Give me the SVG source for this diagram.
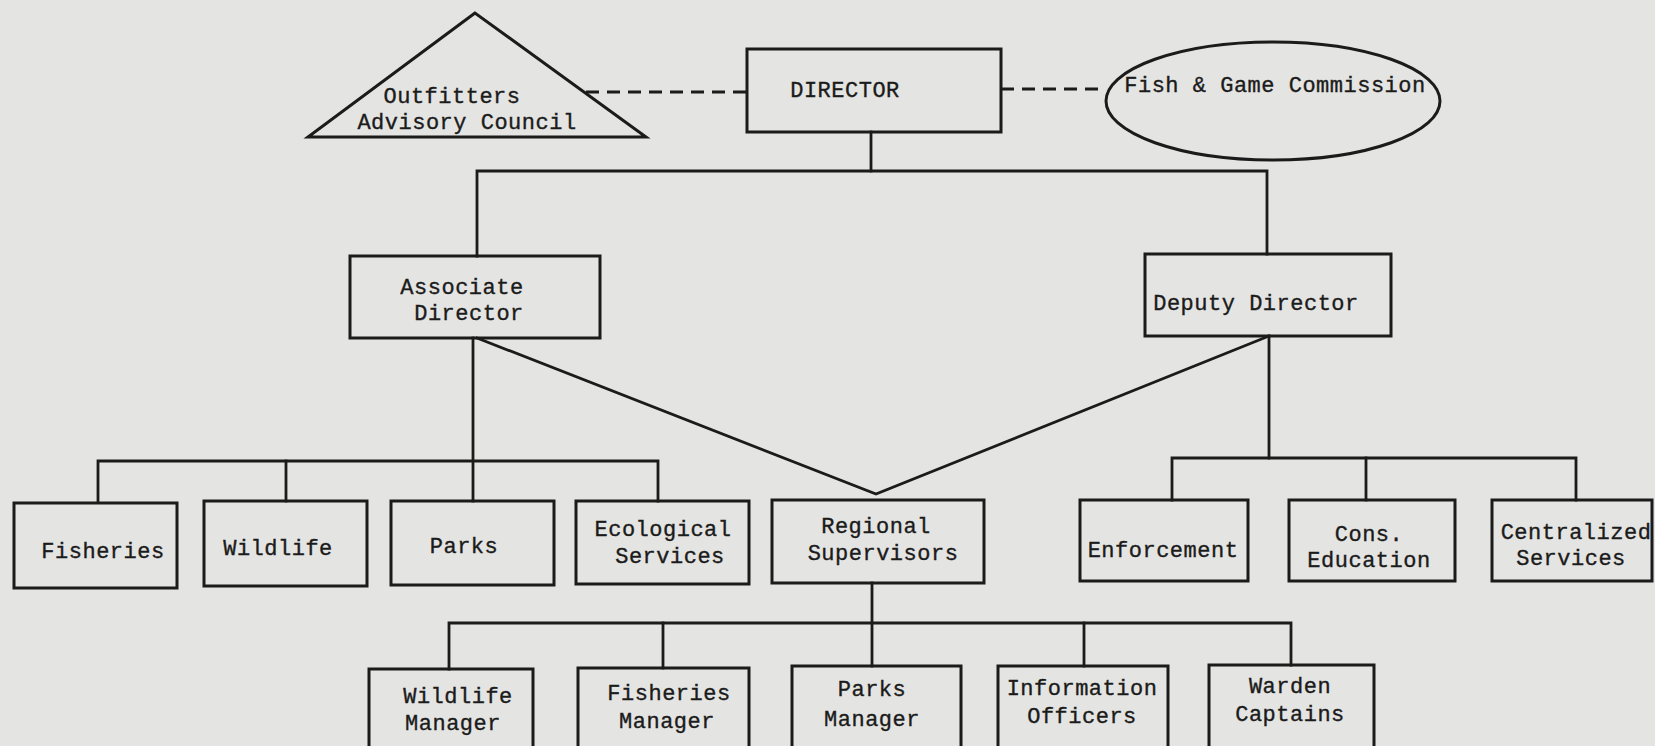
<svg xmlns="http://www.w3.org/2000/svg" width="1655" height="746" viewBox="0 0 1655 746">
  <style>
    .box { fill: none; stroke: #1b1b1b; stroke-width: 3; }
    .ln { fill: none; stroke: #1b1b1b; stroke-width: 2.8; stroke-linecap: square; }
    .dash { fill: none; stroke: #1b1b1b; stroke-width: 2.8; stroke-dasharray: 13 8; }
    text { font-family: "Liberation Mono", "Courier New", monospace; font-size: 22px; letter-spacing: 0.5px; fill: #1b1b1b; stroke: #1b1b1b; stroke-width: 0.35; text-anchor: middle; }
  </style>
  <rect width="1655" height="746" fill="#e4e4e2"/>

  <!-- reporting lines -->
  <g id="connectors">
    <line class="dash" x1="586" y1="92" x2="747" y2="92"/>
    <line class="dash" x1="1001" y1="89" x2="1104" y2="89"/>
    <!-- director to associate / deputy -->
    <polyline class="ln" points="871,132 871,171"/>
    <polyline class="ln" points="477,256 477,171 1267,171 1267,254"/>
    <!-- associate director branch -->
    <line class="ln" x1="473" y1="338" x2="473" y2="501"/>
    <polyline class="ln" points="98,502 98,461 658,461 658,501"/>
    <line class="ln" x1="286" y1="461" x2="286" y2="501"/>
    <!-- both directors to regional supervisors -->
    <polyline class="ln" points="477,338 876,494 1269,336"/>
    <!-- deputy director branch -->
    <line class="ln" x1="1269" y1="336" x2="1269" y2="458"/>
    <polyline class="ln" points="1172,500 1172,458 1576,458 1576,500"/>
    <line class="ln" x1="1366" y1="458" x2="1366" y2="500"/>
    <!-- regional supervisors branch -->
    <line class="ln" x1="872" y1="583" x2="872" y2="666"/>
    <polyline class="ln" points="449,669 449,623 1291,623 1291,665"/>
    <line class="ln" x1="663" y1="623" x2="663" y2="668"/>
    <line class="ln" x1="1084" y1="623" x2="1084" y2="666"/>
  </g>

  <g id="outfitters">
    <polygon class="box" points="475,13 308,137 646,137"/>
    <text x="452" y="103">Outfitters</text>
    <text x="467" y="129">Advisory Council</text>
  </g>

  <g id="director">
    <rect class="box" x="747" y="49" width="254" height="83"/>
    <text x="845" y="97">DIRECTOR</text>
  </g>

  <g id="commission">
    <ellipse class="box" cx="1273" cy="101" rx="167" ry="59"/>
    <text x="1275" y="92">Fish &amp; Game Commission</text>
  </g>

  <g id="associate-director">
    <rect class="box" x="350" y="256" width="250" height="82"/>
    <text x="462" y="294">Associate</text>
    <text x="469" y="320">Director</text>
  </g>

  <g id="deputy-director">
    <rect class="box" x="1145" y="254" width="246" height="82"/>
    <text x="1256" y="310">Deputy Director</text>
  </g>

  <g id="fisheries">
    <rect class="box" x="14" y="503" width="163" height="85"/>
    <text x="103" y="558">Fisheries</text>
  </g>

  <g id="wildlife">
    <rect class="box" x="204" y="501" width="163" height="85"/>
    <text x="278" y="555">Wildlife</text>
  </g>

  <g id="parks">
    <rect class="box" x="391" y="501" width="163" height="84"/>
    <text x="464" y="553">Parks</text>
  </g>

  <g id="ecological-services">
    <rect class="box" x="576" y="501" width="173" height="83"/>
    <text x="663" y="536">Ecological</text>
    <text x="670" y="563">Services</text>
  </g>

  <g id="regional-supervisors">
    <rect class="box" x="772" y="500" width="212" height="83"/>
    <text x="876" y="533">Regional</text>
    <text x="883" y="560">Supervisors</text>
  </g>

  <g id="enforcement">
    <rect class="box" x="1080" y="500" width="168" height="81"/>
    <text x="1163" y="557">Enforcement</text>
  </g>

  <g id="cons-education">
    <rect class="box" x="1289" y="500" width="166" height="81"/>
    <text x="1369" y="541">Cons.</text>
    <text x="1369" y="567">Education</text>
  </g>

  <g id="centralized-services">
    <rect class="box" x="1492" y="500" width="160" height="81"/>
    <text x="1576" y="539">Centralized</text>
    <text x="1571" y="565">Services</text>
  </g>

  <g id="wildlife-manager">
    <rect class="box" x="369" y="669" width="164" height="100"/>
    <text x="458" y="703">Wildlife</text>
    <text x="453" y="730">Manager</text>
  </g>

  <g id="fisheries-manager">
    <rect class="box" x="578" y="668" width="171" height="100"/>
    <text x="669" y="700">Fisheries</text>
    <text x="667" y="728">Manager</text>
  </g>

  <g id="parks-manager">
    <rect class="box" x="792" y="666" width="169" height="100"/>
    <text x="872" y="696">Parks</text>
    <text x="872" y="726">Manager</text>
  </g>

  <g id="information-officers">
    <rect class="box" x="998" y="666" width="170" height="100"/>
    <text x="1082" y="695">Information</text>
    <text x="1082" y="723">Officers</text>
  </g>

  <g id="warden-captains">
    <rect class="box" x="1209" y="665" width="165" height="100"/>
    <text x="1290" y="693">Warden</text>
    <text x="1290" y="721">Captains</text>
  </g>
</svg>
